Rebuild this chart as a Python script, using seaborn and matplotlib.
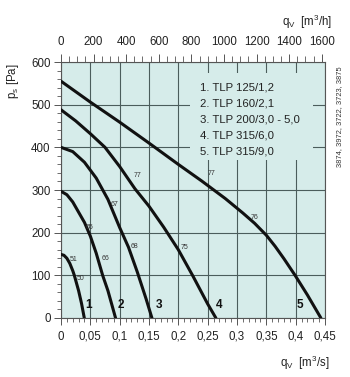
import matplotlib
matplotlib.use("Agg")
import matplotlib.pyplot as plt
from matplotlib.patches import Rectangle
from matplotlib.ticker import MultipleLocator, FuncFormatter
import pandas as pd
import seaborn as sns

# Fan characteristics: volume flow q_v [m3/s] against static pressure p_s [Pa]
q1 = [0.0, 0.005, 0.010, 0.015, 0.020, 0.0227, 0.030, 0.035, 0.0397]
p1 = [149, 147, 140, 128, 111, 100, 64, 34, 0]
q2 = [0.0, 0.010, 0.020, 0.030, 0.040, 0.050, 0.060, 0.071, 0.080, 0.093]
p2 = [297, 289, 272, 248, 224, 192, 152, 100, 64, 0]
q3 = [0.0, 0.020, 0.040, 0.060, 0.080, 0.100, 0.115, 0.130, 0.145, 0.155]
p3 = [400, 390, 365, 328, 278, 212, 166, 108, 45, 0]
q4 = [0.0, 0.025, 0.050, 0.075, 0.100, 0.126, 0.150, 0.175, 0.200, 0.225, 0.250, 0.264]
p4 = [488, 462, 432, 400, 355, 303, 262, 213, 160, 98, 33, 0]
q5 = [0.0, 0.050, 0.100, 0.150, 0.200, 0.240, 0.280, 0.310, 0.330, 0.350, 0.365, 0.380, 0.399, 0.420, 0.443]
p5 = [555, 506, 459, 410, 360, 321, 280, 246, 222, 194, 168, 139, 100, 54, 0]

curve_ids = ["1", "2", "3", "4", "5"]
models = ["1. TLP 125/1,2", "2. TLP 160/2,1", "3. TLP 200/3,0 - 5,0",
          "4. TLP 315/6,0", "5. TLP 315/9,0"]

# curve number labels placed near the foot of each curve
id_q = [0.0477, 0.102, 0.1675, 0.2697, 0.407]
id_p = [30, 30, 30, 30, 30]

# small efficiency markers along the curves
eff_text = ["51", "50", "65", "66", "67", "68", "77", "75", "77", "76"]
eff_q = [0.0221, 0.034, 0.0494, 0.075, 0.0908, 0.125, 0.1306, 0.211, 0.2567, 0.3305]
eff_p = [137, 93, 212, 140, 266, 167, 335, 166, 339, 235]

x_ticks_s = [0, 0.05, 0.1, 0.15, 0.2, 0.25, 0.3, 0.35, 0.4, 0.45]
x_ticks_h = [0, 200, 400, 600, 800, 1000, 1200, 1400, 1600]
y_ticks = [0, 100, 200, 300, 400, 500, 600]

BG = "#d6ecea"
GRID = "#4b5d5c"
INK = "#111111"

sns.set_style("ticks")
plt.rcParams["font.family"] = ["Liberation Sans", "DejaVu Sans"]
plt.rcParams["mathtext.fontset"] = "custom"
plt.rcParams["mathtext.rm"] = "Liberation Sans"
plt.rcParams["mathtext.it"] = "Liberation Sans:italic"

fig = plt.figure(figsize=(3.5, 3.77), dpi=100)
W, H = 350, 377
ax = fig.add_axes([61 / W, 1 - 318 / H, 264 / W, 256 / H])
ax.set_facecolor(BG)

frames = []
for cid, q, p in zip(curve_ids, [q1, q2, q3, q4, q5], [p1, p2, p3, p4, p5]):
    frames.append(pd.DataFrame({"q": q, "p": p, "curve": cid}))
df = pd.concat(frames, ignore_index=True)

sns.lineplot(data=df, x="q", y="p", units="curve", estimator=None, sort=False,
             color=INK, lw=2.2, ax=ax, legend=False, zorder=3)
for ln in ax.get_lines():
    ln.set_solid_joinstyle("round")

ax.set_xlim(0, 0.45)
ax.set_ylim(0, 600)
ax.set_xticks(x_ticks_s)
ax.set_yticks(y_ticks)
ax.xaxis.set_minor_locator(MultipleLocator(0.01))
ax.yaxis.set_minor_locator(MultipleLocator(20))
ax.xaxis.set_major_formatter(FuncFormatter(lambda v, _: f"{round(v, 2):g}".replace(".", ",")))
ax.set_xlabel("")
ax.set_ylabel("")

ax.set_axisbelow(True)
ax.grid(True, which="major", color=GRID, lw=0.8)

for s in ax.spines.values():
    s.set_color("#555555")
    s.set_linewidth(0.8)

ax.tick_params(axis="both", which="major", direction="out", length=5, width=0.7,
               color="#555555", labelsize=8.3, labelcolor="#222222", pad=2.5)
ax.tick_params(axis="both", which="minor", direction="out", length=3, width=0.6,
               color="#555555")
ax.tick_params(axis="x", which="major", pad=4)
ax.tick_params(axis="y", right=False, which="both")

# secondary flow scale in m3/h along the top
ax2 = ax.twiny()
ax2.set_xlim(0, 0.45 * 3600)
ax2.set_xticks(x_ticks_h)
ax2.xaxis.set_minor_locator(MultipleLocator(50))
ax2.tick_params(axis="x", which="major", direction="out", length=6, width=0.7,
                color="#555555", labelsize=8.3, labelcolor="#222222", pad=4)
ax2.tick_params(axis="x", which="minor", direction="out", length=4, width=0.6,
                color="#555555")
for s in ax2.spines.values():
    s.set_visible(False)

# model list on a background-coloured panel that hides the grid behind it
ax.add_patch(Rectangle((0.489, 0.617), 0.466, 0.34, transform=ax.transAxes,
                       facecolor=BG, edgecolor="none", zorder=1))
for i, m in enumerate(models):
    ax.text(200 / W, 1 - (88 + 16 * i) / H, m, transform=fig.transFigure,
            fontsize=8.2, color="#222222", va="center", ha="left", zorder=4)

for t, q, p in zip(curve_ids, id_q, id_p):
    ax.text(q, p, t, fontsize=8.5, fontweight="bold", color=INK,
            ha="center", va="center", zorder=4)

for t, q, p in zip(eff_text, eff_q, eff_p):
    ax.text(q, p, t, fontsize=5, color="#333333", ha="center", va="center", zorder=4)

fig.text(12.7 / W, 1 - 81 / H, r"p$_{\mathregular{s}}$ [Pa]", rotation=90,
         fontsize=8.3, color="#222222", ha="center", va="center")
fig.text(332 / W, 1 - 21.7 / H, r"q$_{\mathregular{V}}$  [m$^{\mathregular{3}}$/h]",
         fontsize=8.3, color="#222222", ha="right", va="center")
fig.text(330 / W, 1 - 363 / H, r"q$_{\mathregular{V}}$  [m$^{\mathregular{3}}$/s]",
         fontsize=8.3, color="#222222", ha="right", va="center")
fig.text(340 / W, 1 - 117 / H, "3874, 3972, 3722, 3723, 3875", rotation=90,
         fontsize=5.4, color="#333333", ha="center", va="center")

fig.savefig("out.png", dpi=100)
